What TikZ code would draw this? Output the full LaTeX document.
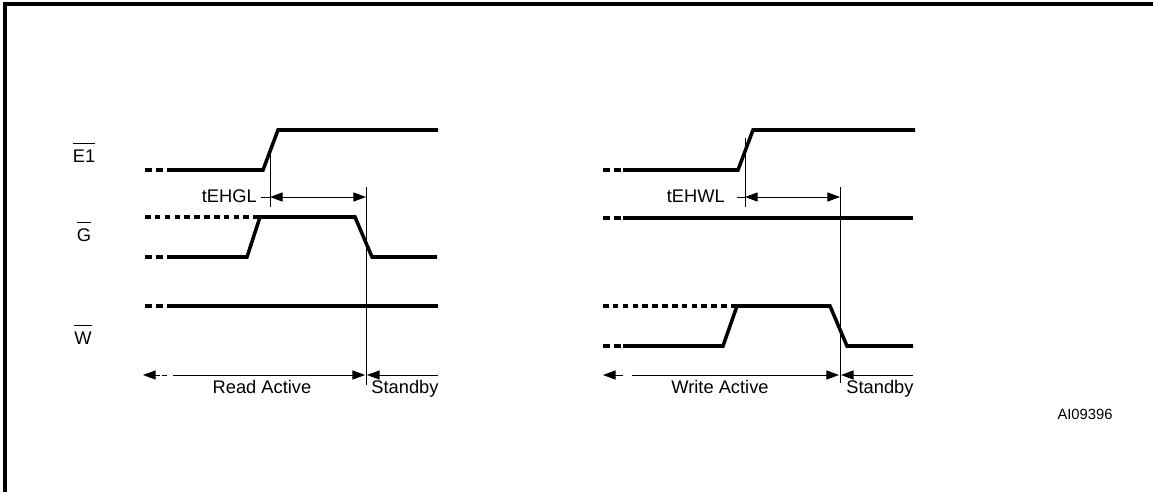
\documentclass[tikz,border=0pt]{standalone}
\usepackage{fontspec}
\setmainfont{Liberation Sans}
\usetikzlibrary{arrows.meta}

\newcommand{\barsig}[1]{\leavevmode\vbox{\hrule height 0.6pt \kern 4.5pt \hbox{#1}}}

\begin{document}
\begin{tikzpicture}[x=0.025cm, y=-0.025cm,
  signal/.style={line width=2.5pt, line join=miter},
  lead/.style={line width=2.5pt, dash pattern=on 5pt off 3pt},
  float/.style={line width=2.5pt, dash pattern=on 4pt off 3pt},
  marker/.style={line width=0.6pt},
  dim/.style={marker, {Triangle[length=9pt, width=6.5pt]}-{Triangle[length=9pt, width=6.5pt]}},
  tip/.style={marker, -{Triangle[length=9pt, width=6.5pt]}},
  lbl/.style={font=\fontsize{13}{15}\selectfont, inner sep=0pt, anchor=base},
  tag/.style={font=\fontsize{10.5}{12}\selectfont, inner sep=0pt, anchor=base}
]
\useasboundingbox (0,0) rectangle (1153,492);
\draw[line width=2.2pt] (5,492) -- (5,4) -- (1153,4);

% signal names
\node[lbl] (E1) at (84,163) {\barsig{E1}};
\node[lbl] (G) at (84,242) {\barsig{G}};
\node[lbl] (W) at (83,345) {\barsig{W}};

% read cycle
\draw[lead] (145,170) -- (167,170);
\draw[signal] (167,170) -- (263,170) -- (278,130) -- (438,130);
\draw[float] (145,217) -- (260,217);
\draw[lead] (145,257) -- (167,257);
\draw[signal] (167,257) -- (247,257) -- (260,217) -- (355,217) -- (372,257) -- (437,257);
\draw[lead] (145,306) -- (167,306);
\draw[signal] (167,306) -- (438,306);

\coordinate (rE) at (270,197);
\coordinate (rG) at (366,197);
\draw[marker] (270,145) -- (270,207);
\draw[marker] (366,187) -- (366,385);
\node[lbl, anchor=base east] (tEHGL) at (257,203) {tEHGL};
\draw[marker] (261,197) -- (rE);
\draw[dim] (rE) -- (rG);

\coordinate (rS) at (365,375);
\draw[tip] (160,375) -- (143,375);
\draw[marker] (162,375) -- (167,375);
\draw[tip] (173,375) -- (rS);
\draw[tip] (438,375) -- (367,375);
\node[lbl] (read) at (262,393) {Read Active};
\node[lbl] (sbyR) at (405,393) {Standby};

% write cycle
\draw[lead] (603,170) -- (623,170);
\draw[signal] (623,170) -- (738,170) -- (753,130) -- (915,130);
\draw[lead] (603,218) -- (623,218);
\draw[signal] (623,218) -- (913,218);
\draw[float] (603,306) -- (737,306);
\draw[lead] (603,346) -- (623,346);
\draw[signal] (623,346) -- (723,346) -- (737,306) -- (830,306) -- (847,346) -- (913,346);

\coordinate (wE) at (745,197);
\coordinate (wW) at (840,197);
\draw[marker] (745,138) -- (745,207);
\draw[marker] (840,187) -- (840,383);
\node[lbl, anchor=base east] (tEHWL) at (725,203) {tEHWL};
\draw[marker] (737,197) -- (wE);
\draw[dim] (wE) -- (wW);

\coordinate (wS) at (839,375);
\draw[tip] (620,375) -- (603,375);
\draw[marker] (618,375) -- (623,375);
\draw[tip] (632,375) -- (wS);
\draw[tip] (913,375) -- (841,375);
\node[lbl] (write) at (720,393) {Write Active};
\node[lbl] (sbyW) at (880,393) {Standby};

\node[tag] (fig) at (1085,419) {AI09396};
\end{tikzpicture}
\end{document}
